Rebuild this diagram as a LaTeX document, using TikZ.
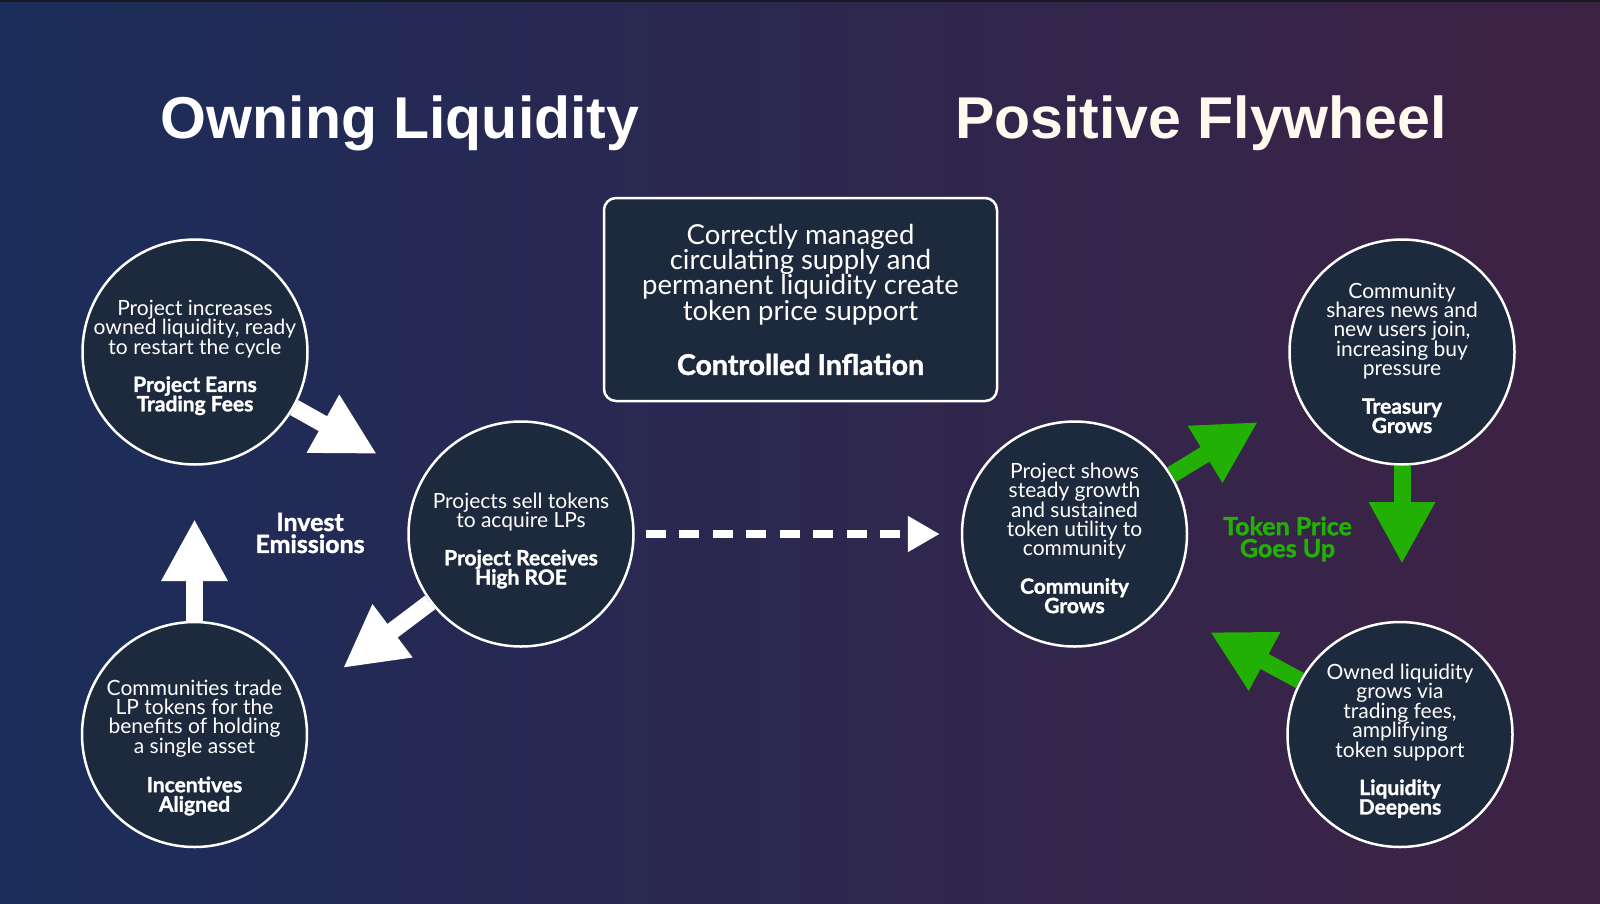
\documentclass[tikz,border=0pt]{standalone}
\usepackage{fontspec}
\setmainfont{Lato}[BoldFeatures={FakeBold=1.5}]
\newfontfamily\titlefont{Liberation Sans}
\usepackage{xcolor}
\usepackage{tikz}
\usetikzlibrary{arrows.meta,positioning,shapes.geometric}

\definecolor{bgleft}{RGB}{27,45,90}
\definecolor{bgright}{RGB}{62,34,68}
\definecolor{topband}{RGB}{24,26,34}
\definecolor{discfill}{RGB}{29,41,60}
\definecolor{flygreen}{RGB}{34,176,4}
\definecolor{cream}{RGB}{255,249,238}

\begin{document}
\begin{tikzpicture}[x=1pt, y=-1pt, every node/.style={inner sep=0pt}]
        \tikzset{
            disc/.style={circle, draw=white, line width=2.5pt, fill=discfill, minimum size=225pt},
            disctext/.style={align=center, text=white, font=\fontsize{21}{19.4}\selectfont},
            infobox/.style={draw=white, line width=2.5pt, fill=discfill, rounded corners=12pt, minimum width=393pt,
                minimum height=203pt, align=center, text=white, font=\fontsize{27.5}{25.3}\selectfont},
            title/.style={anchor=base, font=\titlefont\bfseries\fontsize{59}{59}\selectfont},
            tag/.style={align=center, font=\bfseries\fontsize{25}{22}\selectfont},
            warr/.style={white, line width=17pt, -{Triangle[length=62pt, width=62pt]}},
            garr/.style={flygreen, line width=17pt, -{Triangle[length=62pt, width=62pt]}},
            dasharr/.style={white, line width=8pt, dash pattern=on 20pt off 13.5pt, shorten <=11pt, shorten >=21pt,
                -{Triangle[length=32pt, width=34pt]}}
        }

        \useasboundingbox (0,0) rectangle (1600,903);
        \shade[left color=bgleft, right color=bgright] (0,0) rectangle (1600,903);
        \fill[topband] (0,0) rectangle (1600,2);

        \node[title, text=white] (lefttitle) at (400,138) {Owning Liquidity};
        \node[title, text=cream] (righttitle) at (1201,138) {Positive Flywheel};

        \node[infobox] (inflation) at (800.5,299.5) {Correctly managed\\circulating supply and\\permanent liquidity create\\token price support\\[28pt]{\fontsize{28.5}{25.3}\selectfont\textbf{Controlled Inflation}}};

        % owning liquidity cycle
        \node[disc] (fees) at (195,352) {};
        \node[disc] (roe) at (521,534) {};
        \node[disc] (aligned) at (194.5,734.5) {};
        \node[disctext, yshift=-5.5pt] (feestext) at (fees) {Project increases\\owned liquidity, ready\\to restart the cycle\\[18.5pt]\textbf{Project Earns}\\\textbf{Trading Fees}};
        \node[disctext, yshift=-6.5pt] (roetext) at (roe) {Projects sell tokens\\to acquire LPs\\[18.5pt]\textbf{Project Receives}\\\textbf{High ROE}};
        \node[disctext, yshift=-13pt] (alignedtext) at (aligned) {Communities trade\\LP tokens for the\\benefits of holding\\a single asset\\[18.5pt]\textbf{Incentives}\\\textbf{Aligned}};

        % flywheel
        \node[disc] (community) at (1074.5,534) {};
        \node[disc] (treasury) at (1402,352) {};
        \node[disc] (deepens) at (1400,734.5) {};
        \node[disctext, yshift=-4pt] (communitytext) at (community) {Project shows\\steady growth\\and sustained\\token utility to\\community\\[18.5pt]\textbf{Community}\\\textbf{Grows}};
        \node[disctext, yshift=-6pt] (treasurytext) at (treasury) {Community\\shares news and\\new users join,\\increasing buy\\pressure\\[18.5pt]\textbf{Treasury}\\\textbf{Grows}};
        \node[disctext, yshift=-6.5pt] (deepenstext) at (deepens) {Owned liquidity\\grows via\\trading fees,\\amplifying\\token support\\[18.5pt]\textbf{Liquidity}\\\textbf{Deepens}};

        \node[tag, text=white] (invest) at (310,533) {Invest\\Emissions};
        \node[tag, text=flygreen] (priceup) at (1287.5,539) {Token Price\\Goes Up};

        \coordinate (feestip) at (377,454);
        \coordinate (roetip) at (343,668);
        \coordinate (alignedtip) at (194.5,519);
        \coordinate (communitytip) at (1258,422);
        \coordinate (treasurytip) at (1402,564);
        \coordinate (deepenstip) at (1210,632);

        \draw[warr] (fees) -- (feestip);
        \draw[warr] (roe) -- (roetip);
        \draw[warr] (aligned) -- (alignedtip);
        \draw[dasharr] (roe) -- (community);
        \draw[garr] (community) -- (communitytip);
        \draw[garr] (treasury) -- (treasurytip);
        \draw[garr] (deepens) -- (deepenstip);
    \end{tikzpicture}
\end{document}
